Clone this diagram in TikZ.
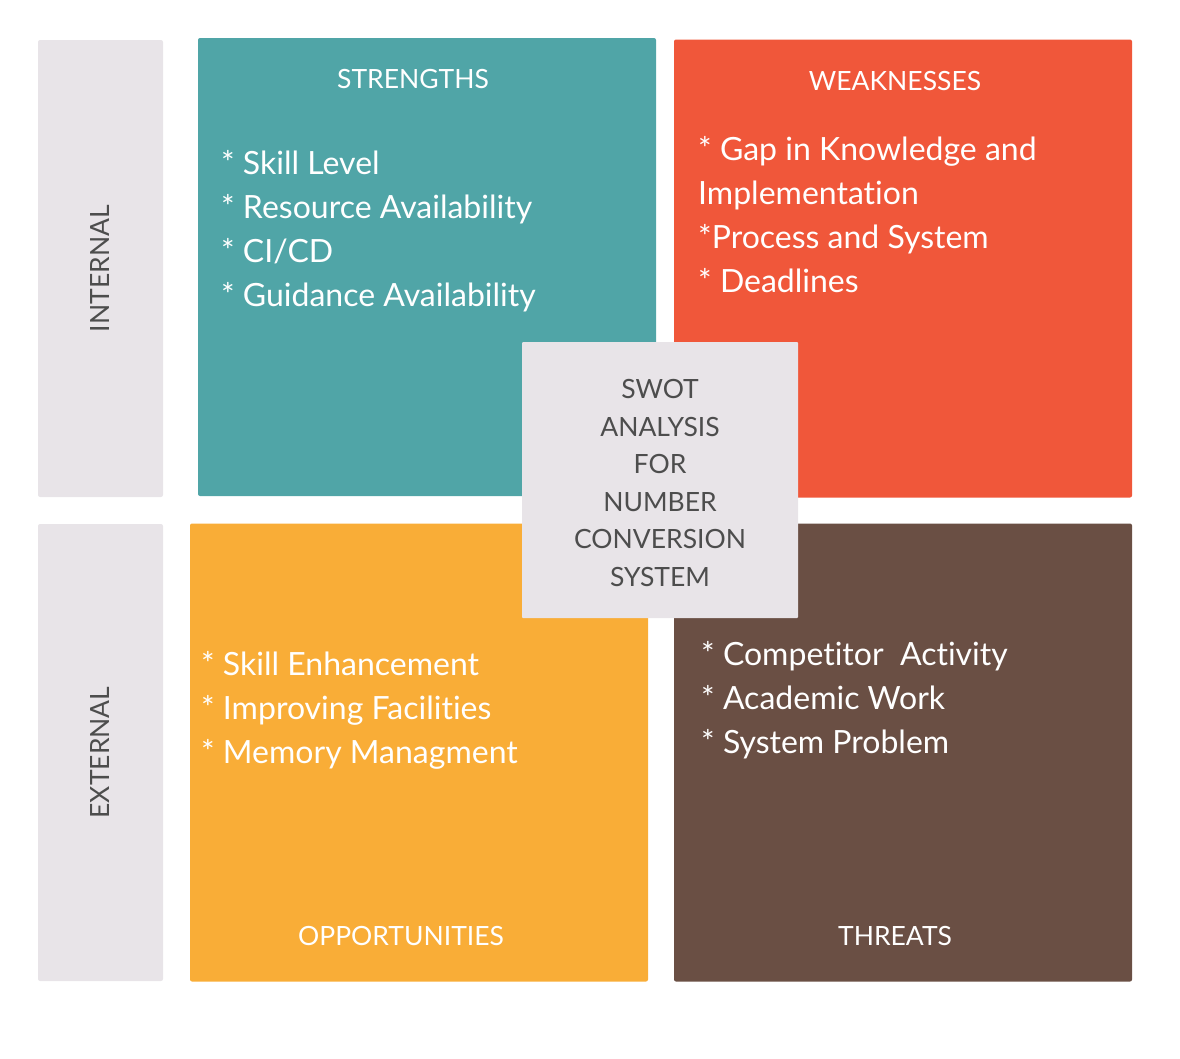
\documentclass[tikz,border=0pt]{standalone}
\usepackage{fontspec}
\setmainfont{Lato}[Ligatures=NoCommon]
\definecolor{cTeal}{HTML}{50A5A7}
\definecolor{cRed}{HTML}{F0573A}
\definecolor{cOrange}{HTML}{F9AD37}
\definecolor{cBrown}{HTML}{6A4F44}
\definecolor{cGrey}{HTML}{E8E4E8}
\definecolor{cText}{HTML}{4D4D4D}
\begin{document}
\begin{tikzpicture}[x=1pt,y=-1pt,
  quad/.style={rectangle, rounded corners=2pt, inner sep=0pt, minimum width=458pt, minimum height=458pt},
  side/.style={rectangle, rounded corners=2pt, inner sep=0pt, fill=cGrey, minimum width=125pt, minimum height=457pt},
  title/.style={text=white, font=\fontsize{26.5}{30}\selectfont},
  items/.style={text=white, align=left, anchor=west, inner sep=0pt, font=\fontsize{32}{44}\selectfont},
  sidelabel/.style={text=cText, rotate=90, font=\fontsize{26.5}{30}\selectfont}
]
\useasboundingbox (0,0) rectangle (1180,1058);
% side bars
\node[side] (INT) at (100.5,268.5) {};
\node[side] (EXT) at (100.5,752.5) {};
\node[sidelabel] (INTl) at (INT.center) {INTERNAL};
\node[sidelabel] (EXTl) at (EXT.center) {EXTERNAL};
% quadrants
\node[quad, fill=cTeal] (S) at (427,267) {};
\node[quad, fill=cRed] (W) at (903,268.5) {};
\node[quad, fill=cOrange] (O) at (419,752.5) {};
\node[quad, fill=cBrown] (T) at (903,752.5) {};
% titles
\node[title] (St) at (413,79.5) {STRENGTHS};
\node[title] (Wt) at (895,81.5) {WEAKNESSES};
\node[title] (Ot) at (401,935.5) {OPPORTUNITIES};
\node[title] (Tt) at (895,935.5) {THREATS};
% items
\node[items] (Si) at (221,231) {* Skill Level\\* Resource Availability\\* CI/CD\\* Guidance Availability};
\node[items] (Wi) at (698,215) {* Gap in Knowledge and\\Implementation\\*Process and System\\* Deadlines};
\node[items] (Oi) at (201,710) {* Skill Enhancement\\* Improving Facilities\\* Memory Managment};
\node[items] (Ti) at (701,700) {* Competitor~~Activity\\* Academic Work\\* System Problem};
% center
\node[rectangle, rounded corners=1pt, fill=cGrey, minimum width=276pt, minimum height=276pt, inner sep=0pt] (C) at (660,480) {};
\node[text=cText, align=center, font=\fontsize{26.5}{37.5}\selectfont] (Ct) at (660,483) {SWOT\\ANALYSIS\\FOR\\NUMBER\\CONVERSION\\SYSTEM};
\end{tikzpicture}
\end{document}
